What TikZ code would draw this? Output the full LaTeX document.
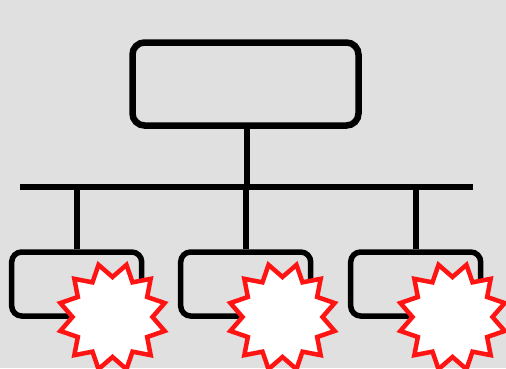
\documentclass[tikz,border=0pt]{standalone}
\definecolor{bggrey}{RGB}{224,224,224}
\definecolor{burstred}{RGB}{255,20,20}
\usetikzlibrary{shapes.geometric}

\begin{document}
\begin{tikzpicture}[x=1pt,y=1pt,
  rootbox/.style={draw=black, line width=6.5pt, rounded corners=12pt, minimum width=226pt, minimum height=83pt},
  childbox/.style={draw=black, line width=5.5pt, rounded corners=10pt, minimum width=130pt, minimum height=64pt},
  burst/.style={star, star points=12, star point ratio=1.35, shape border rotate=15, minimum size=108pt, fill=white, draw=burstred, line width=4.5pt, inner sep=0pt},
  link/.style={line width=6pt}]
  % background
  \fill[bggrey] (0,0) rectangle (506,368);
  \clip (0,0) rectangle (506,368);

  % top box
  \node[rootbox] (root) at (245.5,284) {};

  % bar
  \coordinate (barL) at (20,181);
  \coordinate (barR) at (473,181);
  \coordinate (barM) at (246.5,181);
  \draw[link] (barL) -- (barR);
  \draw[link] (root.south -| barM) -- (barM);

  % children
  \node[childbox] (childA) at (76.7,84) {};
  \node[childbox] (childB) at (245.7,84) {};
  \node[childbox] (childC) at (415.7,84) {};
  \draw[link] (childA.north |- barM) -- (childA.north);
  \draw[link] (childB.north |- barM) -- (childB.north);
  \draw[link] (childC.north |- barM) -- (childC.north);

  % bursts
  \node[burst] (burstA) at (112.5,51) {};
  \node[burst] (burstB) at (282.5,51) {};
  \node[burst] (burstC) at (452.5,51) {};
\end{tikzpicture}
\end{document}
